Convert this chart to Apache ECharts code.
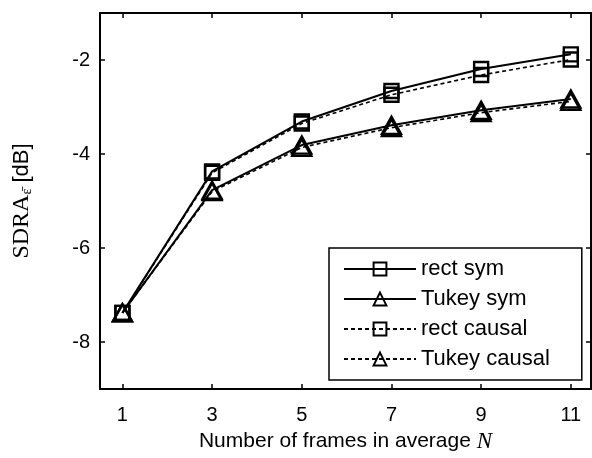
<!DOCTYPE html>
<html>
<head>
<meta charset="utf-8">
<script src="https://cdn.jsdelivr.net/npm/echarts@6/dist/echarts.min.js"></script>
<style>html,body{margin:0;padding:0;background:#fff;}#c{width:592px;height:458px;}</style>
</head>
<body>
<div id="c"></div>
<script>
var frames = [1, 3, 5, 7, 9, 11];
var rectSym = [-7.38, -4.37, -3.31, -2.66, -2.19, -1.88];
var tukeySym = [-7.38, -4.77, -3.81, -3.39, -3.07, -2.83];
var rectCausal = [-7.38, -4.40, -3.35, -2.74, -2.32, -1.99];
var tukeyCausal = [-7.38, -4.80, -3.86, -3.44, -3.12, -2.88];
var xTicks = [1, 3, 5, 7, 9, 11];
var yTicks = [-8, -6, -4, -2];

function pairs(ys) { return frames.map(function (x, i) { return [x, ys[i]]; }); }

var sans = 'Liberation Sans, Arial, Helvetica, sans-serif';
var serif = 'Liberation Serif, Times New Roman, serif';

function mk(name, ys, symbol, size, dashed) {
  return {
    name: name, type: 'line', data: pairs(ys),
    symbol: symbol, symbolSize: size, showSymbol: true,
    lineStyle: { color: '#000', width: dashed ? 1.6 : 2, type: dashed ? [4, 3] : 'solid' },
    itemStyle: { color: 'rgba(255,255,255,0)', borderColor: '#000', borderWidth: 2.4 },
    emphasis: { disabled: true },
    animation: false
  };
}

var chart = echarts.init(document.getElementById('c'));
var axisCommon = {
  axisLine: { show: true, onZero: false, lineStyle: { color: '#000', width: 2 } },
  splitLine: { show: false }
};
chart.setOption({
  backgroundColor: '#fff',
  animation: false,
  grid: { left: 100, top: 13, right: 1, bottom: 65, containLabel: false },
  legend: {
    orient: 'vertical', left: 329, top: 248,
    padding: [10, 32, 10, 14],
    itemWidth: 72, itemHeight: 16, itemGap: 8,
    backgroundColor: '#fff', borderColor: '#000', borderWidth: 1.5, borderRadius: 0,
    textStyle: { fontFamily: sans, fontSize: 22, color: '#000' },
    data: ['rect sym', 'Tukey sym', 'rect causal', 'Tukey causal']
  },
  xAxis: [
    Object.assign({}, axisCommon, {
      type: 'value', min: 0.5, max: 11.45, position: 'bottom',
      axisTick: { inside: true, length: 5, customValues: xTicks, lineStyle: { color: '#000', width: 1.5 } },
      axisLabel: { customValues: xTicks, color: '#000', fontFamily: sans, fontSize: 20, margin: 16 },
      name: '{t|Number of frames in average }{i|N}',
      nameLocation: 'middle', nameGap: 41,
      nameTextStyle: { rich: {
        t: { fontFamily: sans, fontSize: 21, color: '#000' },
        i: { fontFamily: serif, fontStyle: 'italic', fontSize: 23, color: '#000' }
      } }
    }),
    Object.assign({}, axisCommon, {
      type: 'value', min: 0.5, max: 11.45, position: 'top',
      axisTick: { inside: true, length: 5, customValues: xTicks, lineStyle: { color: '#000', width: 1.5 } },
      axisLabel: { show: false }
    })
  ],
  yAxis: [
    Object.assign({}, axisCommon, {
      type: 'value', min: -9, max: -1, position: 'left',
      axisTick: { inside: true, length: 5, customValues: yTicks, lineStyle: { color: '#000', width: 1.5 } },
      axisLabel: { customValues: yTicks, color: '#000', fontFamily: sans, fontSize: 20, margin: 10 },
      name: '{s|SDRA}{sub|ε̄}{n| [dB]}',
      nameLocation: 'middle', nameGap: 66,
      nameTextStyle: { rich: {
        s: { fontFamily: serif, fontSize: 24, color: '#000' },
        sub: { fontFamily: serif, fontSize: 14, color: '#000', verticalAlign: 'bottom' },
        n: { fontFamily: sans, fontSize: 22, color: '#000' }
      } }
    }),
    Object.assign({}, axisCommon, {
      type: 'value', min: -9, max: -1, position: 'right',
      axisTick: { inside: true, length: 5, customValues: yTicks, lineStyle: { color: '#000', width: 1.5 } },
      axisLabel: { show: false }
    })
  ],
  series: [
    mk('rect sym', rectSym, 'rect', 14, false),
    mk('Tukey sym', tukeySym, 'triangle', [19, 17], false),
    mk('rect causal', rectCausal, 'rect', 14, true),
    mk('Tukey causal', tukeyCausal, 'triangle', [19, 17], true)
  ]
});
</script>
</body>
</html>
